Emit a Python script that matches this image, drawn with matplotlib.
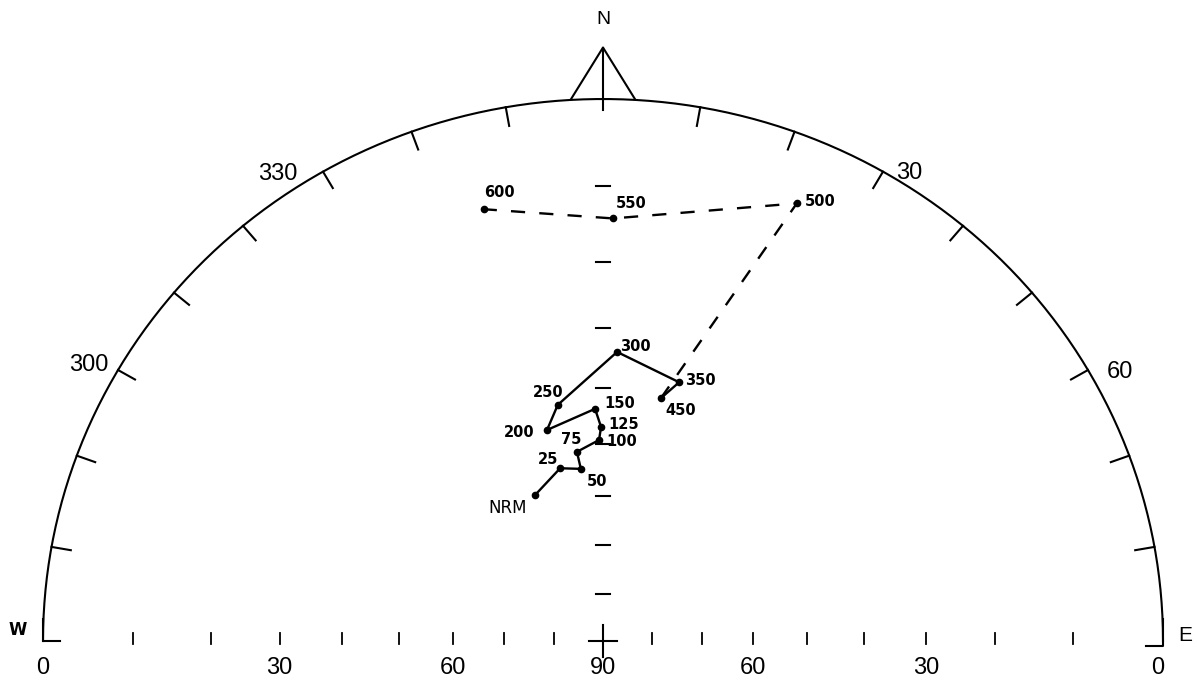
import numpy as np
import matplotlib
matplotlib.use("Agg")
import matplotlib.pyplot as plt

# demagnetisation steps (deg C) with declination / inclination (upper hemisphere)
steps = ["NRM", "25", "50", "75", "100", "125", "150", "200", "250", "300", "350", "450", "500", "550", "600"]
dec = [335.7, 346.5, 352.9, 352.4, 358.9, 359.5, 358.1, 345.6, 349.5, 2.7, 15.9, 13.0, 23.2, 1.3, 345.1]
inc = [57.1, 53.7, 54.5, 51.2, 49.3, 46.9, 43.6, 46.2, 42.2, 33.8, 37.2, 40.6, 7.4, 14.1, 11.0]
n_solid = 12  # NRM..450 joined by solid line, the rest dashed

# label offsets (points) for each step
label_off = [(-20, -9), (-9, 6), (12, -9), (-4, 9), (16, -1), (16, 2), (18, 4), (-20, -2),
             (-7, 9), (13, 4), (15, 1), (14, -9), (17, 1), (13, 11), (11, 12)]

ring_ticks = [280, 290, 300, 310, 320, 330, 340, 350, 10, 20, 30, 40, 50, 60, 70, 80]
# label text, angle, radius factor
ring_labels = {330: ("330", 326.0, 1.04), 300: ("300", 299.0, 1.05),
               30: ("30", 32.4, 1.022), 60: ("60", 61.7, 1.048)}
axis_ticks = [10, 20, 30, 40, 50, 60, 70, 80]
axis_labels = [0, 30, 60, 90, 60, 30, 0]


def proj(d, i):
    # stereographic (Wulff) projection, unit radius
    r = np.tan(np.radians(90 - np.asarray(i, float)) / 2)
    d = np.radians(np.asarray(d, float))
    return r * np.sin(d), r * np.cos(d)


fig = plt.figure(figsize=(11.98, 6.82), dpi=100)
ax = fig.add_axes([0, 0, 1, 1])
ax.set_xlim(-1.0768, 1.0625)
ax.set_ylim(-0.0756, 1.1827)
ax.axis("off")

lw = 1.5
# half circle
th = np.linspace(-90, 90, 400)
cx, cy = proj(th, np.zeros_like(th))
ax.plot(cx, cy, color="black", lw=lw)

# ring ticks
for t in ring_ticks:
    x0, y0 = proj(t, 0)
    ax.plot([x0, x0 * 0.965], [y0, y0 * 0.965], color="black", lw=lw)
    if t in ring_labels:
        s, ang, rf = ring_labels[t]
        xl, yl = proj(ang, 0)
        ax.text(xl * rf, yl * rf, s, fontsize=17, family="Liberation Sans",
                ha="center", va="center")

# north arrow
ax.plot([-0.057, 0, 0.057], [1.0, 1.095, 1.0], color="black", lw=lw)
ax.plot([0, 0], [0.98, 1.095], color="black", lw=lw)
ax.text(0, 1.147, "N", fontsize=14, family="Liberation Sans", ha="center", va="center")

# central vertical tick marks (inclination scale)
for t in axis_ticks:
    _, y = proj(0, t)
    ax.plot([-0.012, 0.012], [y, y], color="black", lw=lw)
ax.plot([-0.025, 0.025], [0, 0], color="black", lw=lw)
ax.plot([0, 0], [-0.03, 0.03], color="black", lw=lw)

# horizontal scale ticks along E-W
for side in (-1, 1):
    for t in axis_ticks:
        x, _ = proj(90, t)
        ax.plot([side * x, side * x], [-0.005, 0.015], color="black", lw=1.3)

# W / E brackets
ax.plot([-1, -1, -0.97], [0.04, 0.0, 0.0], color="black", lw=lw)
ax.plot([0.97, 1.0, 1.0], [-0.01, -0.01, 0.04], color="black", lw=lw)
ax.text(-1.045, 0.02, "W", fontsize=12, fontweight="bold", ha="center", va="center")
ax.text(1.04, 0.01, "E", fontsize=15, family="Liberation Sans", ha="center", va="center")

# bottom scale labels
lab_x = [-1, -proj(90, 30)[0], -proj(90, 60)[0], 0, proj(90, 60)[0], proj(90, 30)[0], 0.99]
for x, s in zip(lab_x, axis_labels):
    ax.text(x, -0.05, str(s), fontsize=17, family="Liberation Sans", ha="center", va="center")

# data path
px, py = proj(dec, inc)
ax.plot(px[:n_solid], py[:n_solid], color="black", lw=1.7)
ax.plot(px[n_solid - 1:], py[n_solid - 1:], color="black", lw=1.7, dashes=(6, 6))
ax.plot(px, py, "o", color="black", ms=4.5)

for x, y, s, off in zip(px, py, steps, label_off):
    fs = 12 if s == "NRM" else 10.5
    ax.annotate(s, (x, y), xytext=off, textcoords="offset points", fontsize=fs,
                fontweight="bold" if s != "NRM" else "normal",
                family="DejaVu Sans", ha="center", va="center")

fig.savefig("out.png", dpi=100)
